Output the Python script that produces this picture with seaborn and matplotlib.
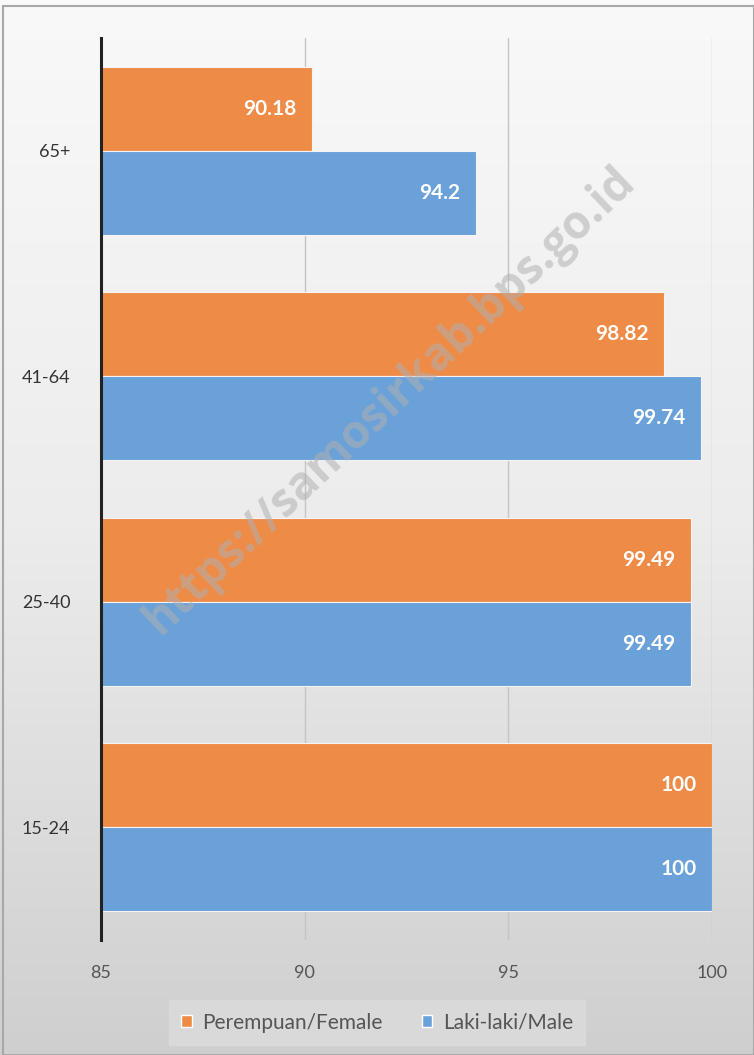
"""
Literacy-style horizontal bar chart by age group and sex
"""

import numpy as np
import pandas as pd
import matplotlib
matplotlib.use('Agg')
import matplotlib.pyplot as plt
import seaborn as sns
from matplotlib.patches import Rectangle, Patch

# Data
age_groups = ['65+', '41-64', '25-40', '15-24']
female = [90.18, 98.82, 99.49, 100]
male = [94.2, 99.74, 99.49, 100]
series_names = ['Perempuan/Female', 'Laki-laki/Male']
x_ticks = [85, 90, 95, 100]

ORANGE = '#EE8B47'
BLUE = '#6AA1D8'
TEXT = '#555555'

sns.set_style('white')
plt.rcParams['font.family'] = ['Lato', 'DejaVu Sans']

df = pd.DataFrame({
    'age': age_groups * 2,
    'value': female + male,
    'sex': [series_names[0]] * len(age_groups) + [series_names[1]] * len(age_groups),
})

fig = plt.figure(figsize=(7.54, 10.55), dpi=100)

# background gradient (light at top, grey at bottom)
bg = fig.add_axes([0, 0, 1, 1], zorder=-10)
grad = np.linspace(0, 1, 256).reshape(-1, 1)
bg.imshow(grad, aspect='auto', cmap=matplotlib.colors.LinearSegmentedColormap.from_list(
    'bg', ['#f9f9f9', '#ececec', '#cfcfcf']), extent=[0, 1, 0, 1], origin='upper')
bg.add_patch(Rectangle((0.004, 0.0), 0.996, 0.994, fill=False, edgecolor='#a8a8a8', lw=1.5,
                       transform=bg.transAxes))
bg.set_xlim(0, 1)
bg.set_ylim(0, 1)
bg.axis('off')

ax = fig.add_axes([0.134, 0.109, 0.810, 0.855])
ax.patch.set_alpha(0)

sns.barplot(data=df, y='age', x='value', hue='sex', order=age_groups,
            hue_order=series_names, palette=[ORANGE, BLUE], orient='h',
            width=0.745, saturation=1, edgecolor='#f4f4f4', linewidth=0.8,
            ax=ax, zorder=3, legend=False)

ax.set_xlim(85, 100)
ax.set_ylim(3.5, -0.5)

# vertical gridlines
for t in x_ticks[1:]:
    ax.axvline(t, color='#c4c4c4', lw=1, zorder=1)

# value labels inside bar ends
for container, vals in zip(ax.containers, [female, male]):
    for bar, v in zip(container, vals):
        y = bar.get_y() + bar.get_height() / 2
        ax.text(v - 0.38, y, f'{v:g}', ha='right', va='center', color='white',
                fontsize=15, fontweight='bold', zorder=5)

ax.set_xticks(x_ticks)
ax.set_xticklabels([str(t) for t in x_ticks])
ax.tick_params(axis='x', length=0, pad=18, labelsize=13, labelcolor=TEXT)
ax.tick_params(axis='y', length=0, pad=22, labelsize=13, labelcolor='#333333')
ax.set_xlabel('')
ax.set_ylabel('')

for s in ['top', 'right', 'bottom']:
    ax.spines[s].set_visible(False)
ax.spines['left'].set_color('#222222')
ax.spines['left'].set_linewidth(2.2)
ax.spines['left'].set_zorder(6)

handles = [Patch(facecolor=ORANGE, label=series_names[0]),
           Patch(facecolor=BLUE, label=series_names[1])]
leg = fig.legend(handles=handles, loc='center', bbox_to_anchor=(0.5, 0.0305), ncol=2,
                 frameon=True, fancybox=False, fontsize=15, handlelength=0.5,
                 handleheight=0.5, handletextpad=0.5, columnspacing=1.9,
                 borderpad=0.6, borderaxespad=0, labelcolor=TEXT)
leg.get_frame().set_facecolor('#dcdcdc')
leg.get_frame().set_edgecolor('#dcdcdc')

# watermark
fig.text(0.517, 0.620, 'https://samosirkab.bps.go.id', rotation=43.5, ha='center',
         va='center', fontsize=33, fontweight='bold', family=['Open Sans', 'DejaVu Sans'],
         color='#b0b0b0', alpha=0.55, zorder=10)

fig.savefig('out.png', dpi=100)
